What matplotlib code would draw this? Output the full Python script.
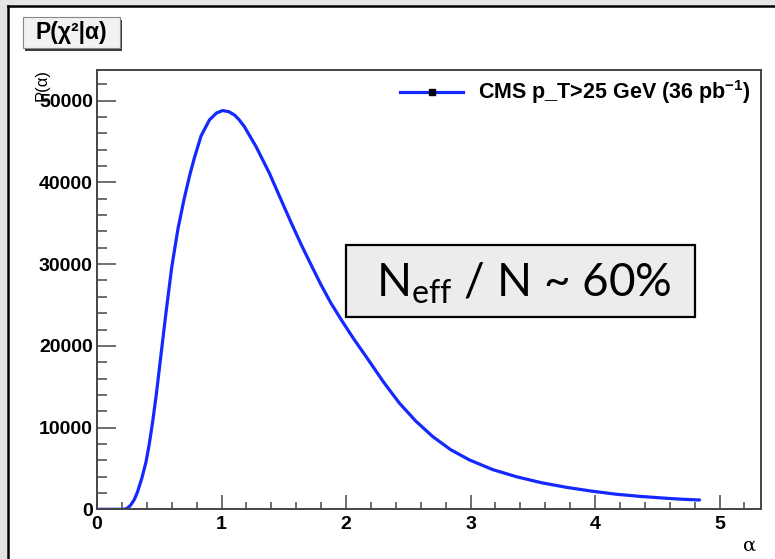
#!/usr/bin/env python3
"""Likelihood curve P(chi2|alpha) in a ROOT-like canvas."""

import matplotlib

matplotlib.use("Agg")
import matplotlib.pyplot as plt
from matplotlib.patches import Rectangle

# values
alpha = [0.0, 0.22, 0.245, 0.27, 0.30, 0.326, 0.36, 0.394, 0.42, 0.447, 0.475,
         0.501, 0.555, 0.60, 0.65, 0.70, 0.745, 0.782, 0.836, 0.903, 0.96,
         1.01, 1.06, 1.104, 1.14, 1.184, 1.278, 1.385, 1.492, 1.56, 1.64,
         1.72, 1.80, 1.88, 1.97, 2.06, 2.162, 2.30, 2.43, 2.56, 2.698, 2.84,
         2.993, 3.18, 3.368, 3.57, 3.77, 3.97, 4.172, 4.37, 4.574, 4.70, 4.84]
prob = [0, 0, 150, 500, 1200, 2150, 3800, 5820, 8000, 10720, 13900,
        17250, 24180, 29600, 34300, 38000, 40900, 43000, 45700, 47650, 48500,
        48800, 48650, 48250, 47700, 46820, 44370, 41120, 37400, 35050, 32400,
        29900, 27450, 25200, 23000, 20900, 18670, 15600, 12970, 10800, 8880, 7300,
        6030, 4850, 3990, 3250, 2690, 2230, 1840, 1570, 1350, 1230, 1140]

legend_label = r"CMS p_T>25 GeV (36 pb$^{\mathbf{-1}}$)"
title_text = "P(χ²|α)"
box_text = r"N$_{\mathrm{eff}}$ / N ~ 60%"

plt.rcParams["mathtext.fontset"] = "custom"
plt.rcParams["mathtext.rm"] = "Lato"
plt.rcParams["mathtext.bf"] = "Liberation Sans:bold"

W, H = 775, 559
fig = plt.figure(figsize=(W / 100, H / 100), dpi=100, facecolor="white")

ax = fig.add_axes([97 / W, 1 - 509.3 / H, (761 - 97) / W, (509.3 - 70) / H])
ax.plot(alpha, prob, color="#1428ff", lw=2.3, solid_capstyle="round",
        solid_joinstyle="round")
ax.set_xlim(0, 5.333)
ax.set_ylim(0, 53760)
ax.set_xticks([0, 1, 2, 3, 4, 5])
ax.set_xticks([i * 0.2 for i in range(27)], minor=True)
ax.set_yticks([0, 10000, 20000, 30000, 40000, 50000])
ax.set_yticks([i * 2000 for i in range(27)], minor=True)
ax.tick_params(which="both", direction="in", color="#555555", width=1.2,
               top=False, right=False)
ax.tick_params(axis="x", which="major", length=10, pad=5)
ax.tick_params(axis="x", which="minor", length=5)
ax.tick_params(axis="y", which="major", length=14, pad=3)
ax.tick_params(axis="y", which="minor", length=7)
for lab in ax.get_xticklabels() + ax.get_yticklabels():
    lab.set_family("Liberation Sans")
    lab.set_fontweight("bold")
    lab.set_fontsize(14)
for sp in ax.spines.values():
    sp.set_color("#444444")
    sp.set_linewidth(1.4)

# overlay in pixel coordinates for the canvas decorations
ov = fig.add_axes([0, 0, 1, 1], zorder=5)
ov.set_xlim(0, W)
ov.set_ylim(H, 0)
ov.axis("off")
ov.patch.set_alpha(0)

ov.add_patch(Rectangle((0, 0), 7, H, facecolor="#e2e2e2", edgecolor="none"))
ov.add_patch(Rectangle((0, 0), W, 5, facecolor="#e6e6e6", edgecolor="none"))
ov.plot([8, 8], [6, H], color="black", lw=1.8)
ov.plot([8, W], [6, 6], color="black", lw=1.8)

# title box with shadow
ov.add_patch(Rectangle((25, 20), 97, 31, facecolor="#3a3a3a", edgecolor="none"))
ov.add_patch(Rectangle((23, 17), 97, 31, facecolor="#f2f2f2",
                       edgecolor="#888888", lw=0.8))
ov.text(71, 33, title_text, ha="center", va="center", fontsize=16.5,
        fontweight="bold", family="Liberation Sans")

# y axis title (ROOT style, overlapping the top label)
fig.text(42 / W, 1 - 69 / H, "P(α)", rotation=90, ha="center", va="top",
         fontsize=12, family="Liberation Sans")
# x axis title
fig.text(750 / W, 1 - 546 / H, "α", ha="center", va="center", fontsize=14,
         family="DejaVu Serif")

# legend entry
ov.plot([400, 463], [92, 92], color="#1428ff", lw=2.3)
ov.plot([432], [92], marker="s", color="black", ms=5)
ov.text(478, 92, legend_label, ha="left", va="center", fontsize=15.5,
        fontweight="bold", family="Liberation Sans")

# annotation box
ov.add_patch(Rectangle((346, 245), 349, 72, facecolor="#ececec",
                       edgecolor="black", lw=1.6))
ov.text(524, 297, box_text, ha="center", va="baseline", fontsize=33,
        family="Lato")

fig.savefig("out.png", dpi=100)
